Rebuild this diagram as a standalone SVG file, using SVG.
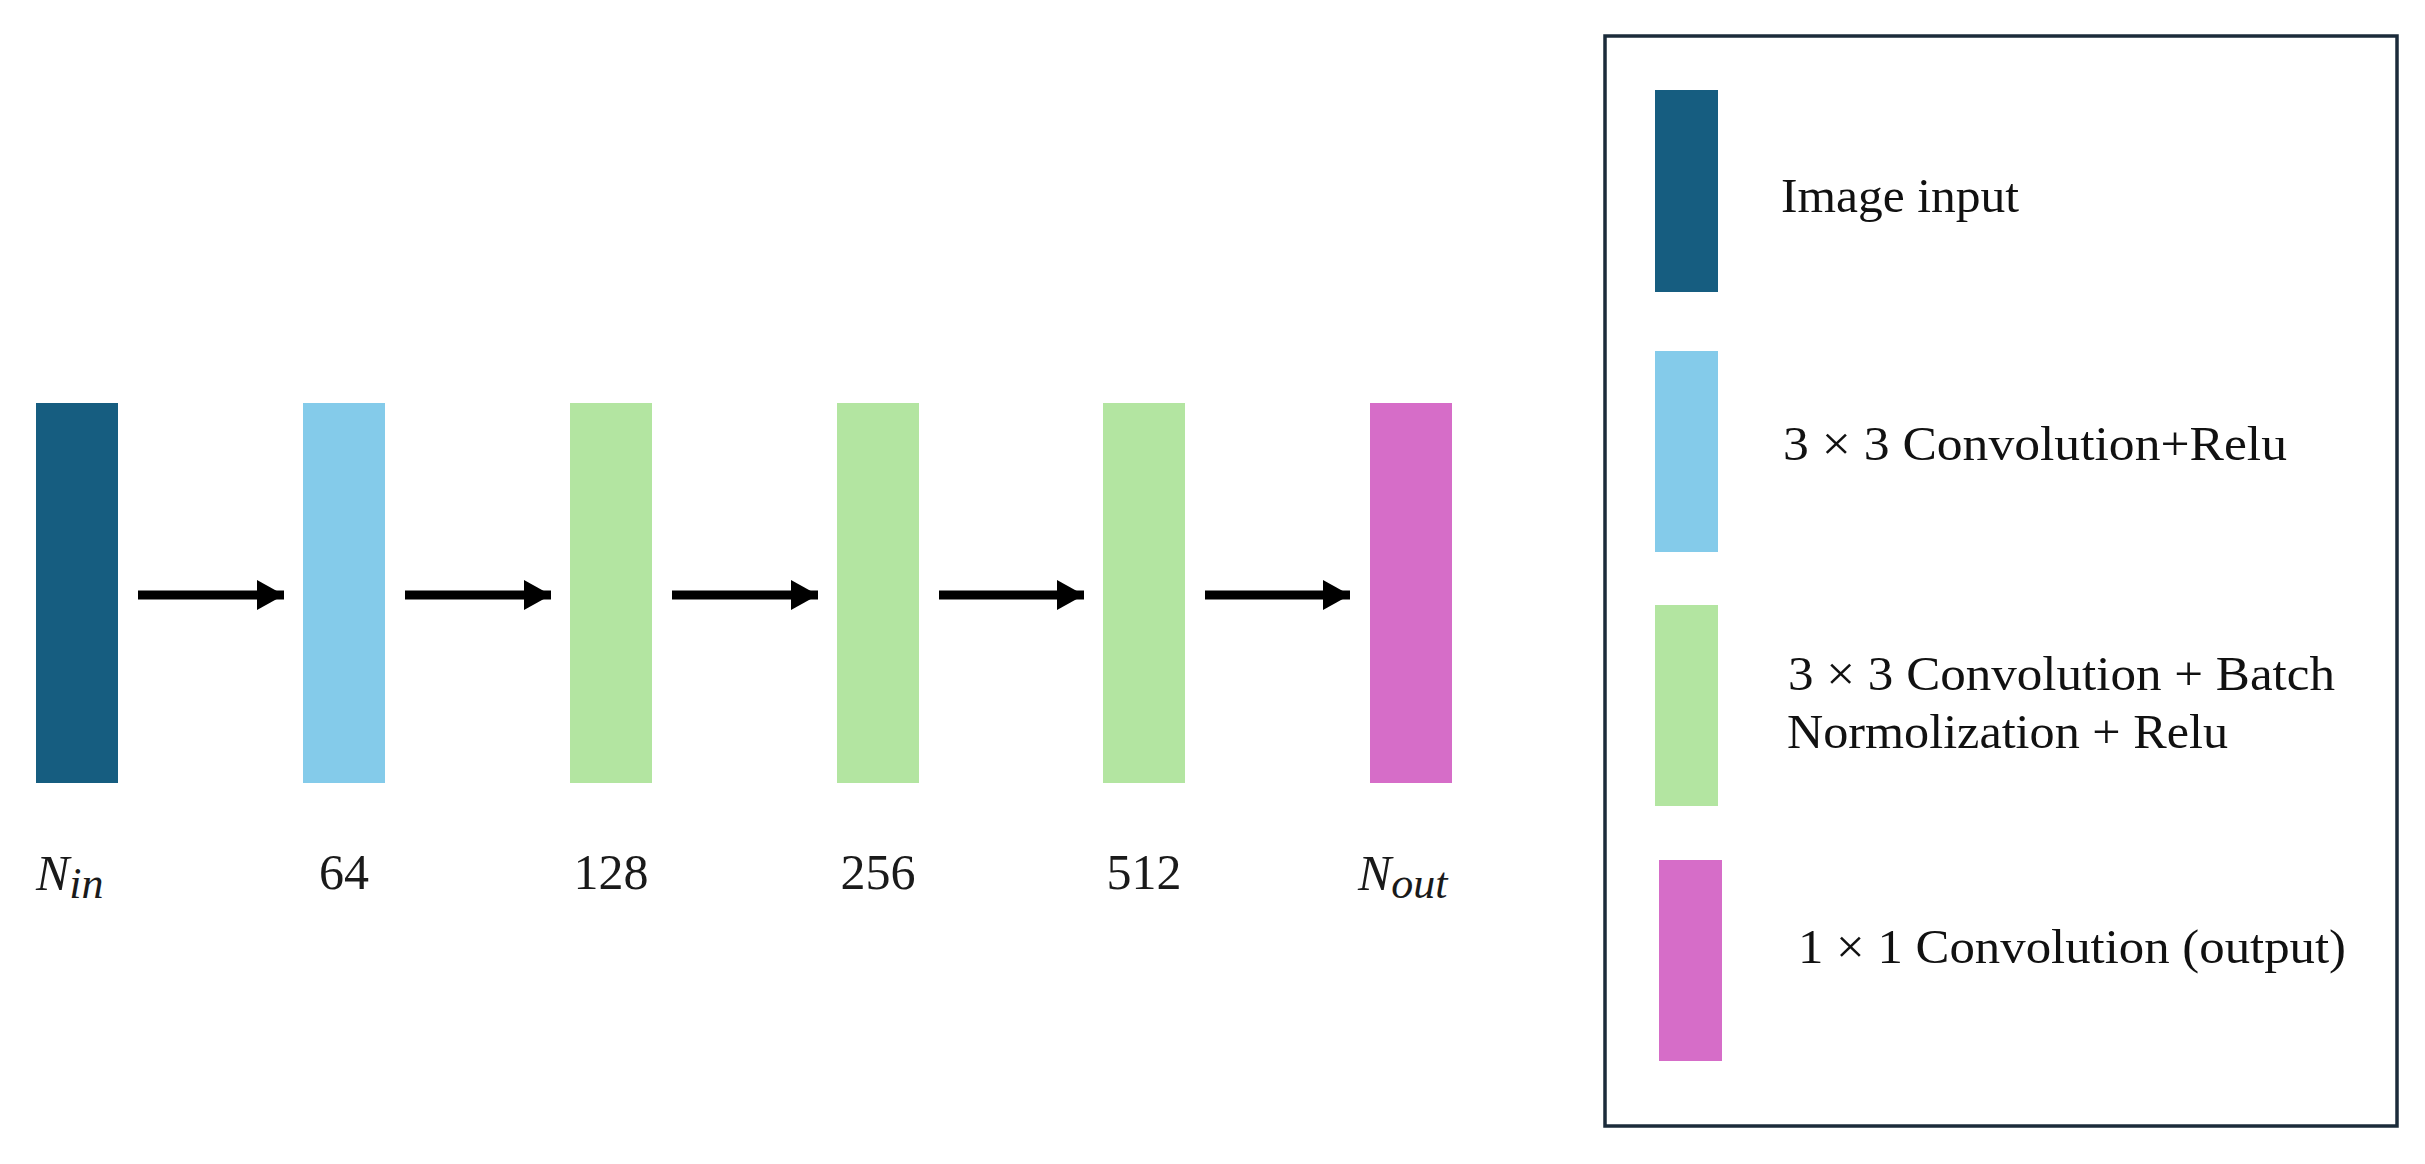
<svg xmlns="http://www.w3.org/2000/svg" width="2425" height="1164" viewBox="0 0 2425 1164">
  <defs>
    <style>
      .inp { fill: #165d80; }
      .c1 { fill: #84cbea; }
      .c2 { fill: #b3e5a1; }
      .out { fill: #d66dc8; }
      .lbl { font-family: "Liberation Serif", "Times New Roman", serif; font-size: 50px; fill: #1a1a1a; }
      .math { font-family: "Liberation Serif", "Times New Roman", serif; font-style: italic; fill: #1a1a1a; }
      .leg { font-family: "Liberation Serif", "Times New Roman", serif; font-size: 49px; fill: #111111; }
      .conn { stroke: #000; stroke-width: 9; fill: none; }
    </style>
    <marker id="ah" markerUnits="userSpaceOnUse" markerWidth="30" markerHeight="32" refX="27" refY="15" orient="auto" overflow="visible">
      <path d="M0,0 L27,15 L0,30 Z" fill="#000"/>
    </marker>
  </defs>
  <rect width="2425" height="1164" fill="#ffffff"/>

  <!-- nodes -->
  <g id="n-in">
    <rect class="inp" x="36" y="403" width="82" height="380"/>
    <text class="math" x="36" y="890" font-size="50">N<tspan font-size="44" dy="8">in</tspan></text>
  </g>
  <g id="n-64">
    <rect class="c1" x="303" y="403" width="82" height="380"/>
    <text class="lbl" x="344" y="889" text-anchor="middle">64</text>
  </g>
  <g id="n-128">
    <rect class="c2" x="570" y="403" width="82" height="380"/>
    <text class="lbl" x="611" y="889" text-anchor="middle">128</text>
  </g>
  <g id="n-256">
    <rect class="c2" x="837" y="403" width="82" height="380"/>
    <text class="lbl" x="878" y="889" text-anchor="middle">256</text>
  </g>
  <g id="n-512">
    <rect class="c2" x="1103" y="403" width="82" height="380"/>
    <text class="lbl" x="1144" y="889" text-anchor="middle">512</text>
  </g>
  <g id="n-out">
    <rect class="out" x="1370" y="403" width="82" height="380"/>
    <text class="math" x="1358" y="890" font-size="50">N<tspan font-size="44" dy="8">out</tspan></text>
  </g>

  <!-- connectors -->
  <g id="connectors">
    <line class="conn" x1="138" y1="595" x2="284" y2="595" marker-end="url(#ah)"/>
    <line class="conn" x1="405" y1="595" x2="551" y2="595" marker-end="url(#ah)"/>
    <line class="conn" x1="672" y1="595" x2="818" y2="595" marker-end="url(#ah)"/>
    <line class="conn" x1="939" y1="595" x2="1084" y2="595" marker-end="url(#ah)"/>
    <line class="conn" x1="1205" y1="595" x2="1350" y2="595" marker-end="url(#ah)"/>
  </g>

  <!-- legend -->
  <g id="legend">
    <rect x="1605" y="36" width="792" height="1090" fill="#ffffff" stroke="#1b2b3a" stroke-width="3.5"/>
    <g id="legend-input">
      <rect class="inp" x="1655" y="90" width="63" height="202"/>
      <text class="leg" x="1781" y="212" textLength="238" lengthAdjust="spacingAndGlyphs">Image input</text>
    </g>
    <g id="legend-conv">
      <rect class="c1" x="1655" y="351" width="63" height="201"/>
      <text class="leg" x="1783" y="460" textLength="504" lengthAdjust="spacingAndGlyphs">3 × 3 Convolution+Relu</text>
    </g>
    <g id="legend-convbn">
      <rect class="c2" x="1655" y="605" width="63" height="201"/>
      <text class="leg" x="1788" y="690" textLength="547" lengthAdjust="spacingAndGlyphs">3 × 3 Convolution + Batch</text>
      <text class="leg" x="1787" y="748" textLength="441" lengthAdjust="spacingAndGlyphs">Normolization + Relu</text>
    </g>
    <g id="legend-out">
      <rect class="out" x="1659" y="860" width="63" height="201"/>
      <text class="leg" x="1798" y="963" textLength="548" lengthAdjust="spacingAndGlyphs">1 × 1 Convolution (output)</text>
    </g>
  </g>
</svg>
